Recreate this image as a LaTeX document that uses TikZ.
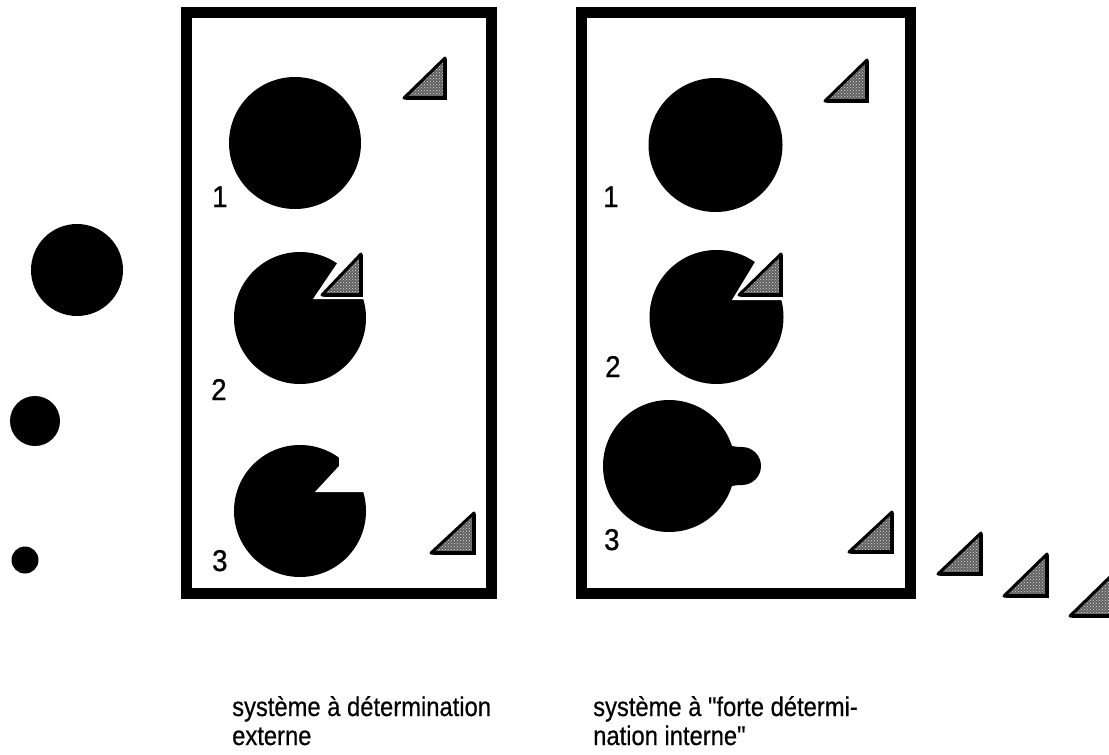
\documentclass[tikz,border=0pt]{standalone}
\usepackage{fontspec}
\setmainfont{Liberation Sans}
\newfontfamily\capfont[FakeStretch=0.88,FakeBold=0.5,Ligatures=TeXOff]{Liberation Sans}
\newfontfamily\numfont[FakeStretch=0.92,FakeBold=0.9]{Liberation Sans}
\usetikzlibrary{patterns}
\newcommand{\halftri}[4]{%
  \fill[black!62] (#1+2,#2-2) -- (#3-2,#4+2) -- (#3-2,#2-2) -- cycle;
  \fill[pattern=crosshatch dots, pattern color=white!85!black] (#1+2,#2-2) -- (#3-2,#4+2) -- (#3-2,#2-2) -- cycle;
  \draw[tri] (#1+2,#2-2) -- (#3-2,#4+2) -- (#3-2,#2-2) -- cycle;
  \draw[trileg] (#3-2,#4+3) -- (#3-2,#2-2) -- (#1+4,#2-2);}
\begin{document}
\begin{tikzpicture}[x=1pt,y=-1pt,
  frame/.style={line width=11pt},
  tri/.style={draw=black, line width=3pt, line join=round},
  trileg/.style={draw=black, line width=4.4pt, line join=miter},
  num/.style={font=\numfont\fontsize{30}{30}\selectfont, inner sep=0pt, anchor=base west},
  captext/.style={font=\capfont\fontsize{27}{28}\selectfont, inner sep=0pt, anchor=base west}]
\useasboundingbox (0,0) rectangle (1109,755);
\clip (0,0) rectangle (1109,755);
% frames
\draw[frame] (186,12.5) rectangle (491.5,593);
\draw[frame] (581,12.5) rectangle (910,593);
% left circles
\fill (77,270) circle (46);
\fill (35,421) circle (25);
\fill (25,560) circle (13.5);
% box 1
\fill (295,143) circle (66);
\halftri{402}{100}{447}{56}
\fill (300,318) circle (66);
\fill[white] (313,299) -- (338,262) -- (338,240) -- (380,240) -- (380,299) -- cycle;
\halftri{320}{297}{363}{252}
\fill (300,511) circle (66);
\fill[white] (315,492) -- (339,466) -- (339,440) -- (380,440) -- (380,492) -- cycle;
\halftri{429}{555}{476}{511}
\node[num] (n11) at (212,207) {1};
\node[num] (n12) at (211,400) {2};
\node[num] (n13) at (212,571) {3};
% box 2
\fill (715.5,145) circle (67);
\halftri{823}{103}{869}{58}
\fill (716.5,317) circle (67);
\fill[white] (732,300) -- (755,262) -- (755,240) -- (800,240) -- (800,300) -- cycle;
\halftri{737}{297}{783}{252}
\fill (669,466) circle (66);
\fill (742,466) circle (19);
\fill (722,443) .. controls (730,446) and (735,447) .. (742,447) -- (742,485) .. controls (735,485) and (730,486) .. (722,489) -- cycle;
\halftri{847}{554}{894}{510}
\node[num] (n21) at (603,207) {1};
\node[num] (n22) at (605,377) {2};
\node[num] (n23) at (604,550) {3};
% outside triangles
\halftri{936}{576}{983}{531}
\halftri{1002}{598}{1049}{552}
\halftri{1068}{618}{1115}{572}
% captions
\node[captext] (t1a) at (232,716) {système à détermination};
\node[captext] (t1b) at (232,745) {externe};
\node[captext] (t2a) at (593,716) {système à "forte détermi-};
\node[captext] (t2b) at (593,745) {nation interne"};
\end{tikzpicture}
\end{document}
